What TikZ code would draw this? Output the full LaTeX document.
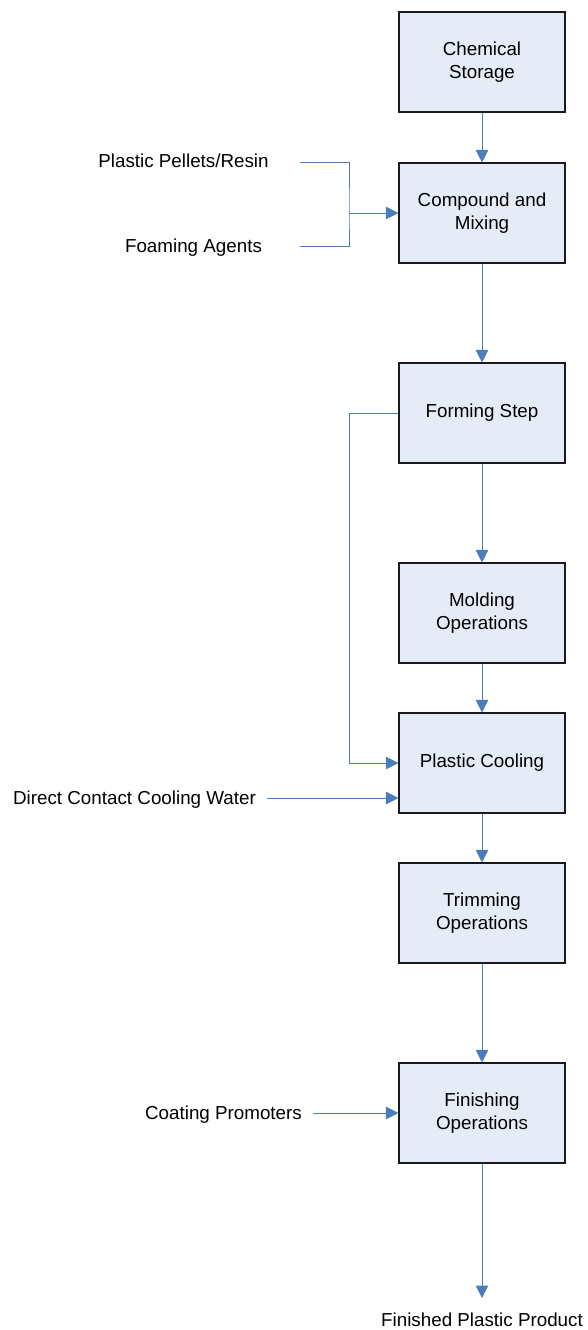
\documentclass[tikz,border=0pt]{standalone}
\usepackage{fontspec}
\setmainfont{Liberation Sans}
\usetikzlibrary{arrows.meta}
\definecolor{flowblue}{HTML}{4A7EBB}
\definecolor{boxfill}{HTML}{E6ECF7}
\definecolor{boxline}{HTML}{1A1A1A}
\tikzset{
  stepbox/.style={draw=boxline, line width=1.1pt, fill=boxfill, minimum width=166pt,
    minimum height=100pt, inner sep=0pt, align=center, font=\fontsize{18.8}{22.5}\selectfont},
  label/.style={inner sep=0pt, font=\fontsize{18.8}{22.5}\selectfont},
  flow/.style={draw=flowblue, line width=1pt},
  flowarrow/.style={flow, -{Triangle[length=12.5pt,width=12.5pt]}}
}
\begin{document}
\begin{tikzpicture}[x=1pt,y=-1pt]
\useasboundingbox (0,0) rectangle (588,1330);
% process boxes
\node[stepbox] (chem) at (482,62) {Chemical\\Storage};
\node[stepbox] (mix) at (482,213) {Compound and\\Mixing};
\node[stepbox] (form) at (482,413) {Forming Step};
\node[stepbox] (mold) at (482,613) {Molding\\Operations};
\node[stepbox] (cool) at (482,763) {Plastic Cooling};
\node[stepbox] (trim) at (482,913) {Trimming\\Operations};
\node[stepbox] (fin) at (482,1113) {Finishing\\Operations};
% side inputs and output
\node[label] (pellets) at (183.5,161) {Plastic Pellets/Resin};
\node[label] (foam) at (193.5,247.5) {Foaming Agents};
\node[label] (water) at (134.5,800) {Direct Contact Cooling Water};
\node[label] (coat) at (223.5,1115) {Coating Promoters};
\node[label] (product) at (482,1320) {Finished Plastic Product};
% free ends of the input lines
\coordinate (pin) at (300,162);
\coordinate (fin1) at (300,246);
\coordinate (join) at (349,213);
\coordinate (win) at (267,798);
\coordinate (cin) at (313,1113);
\coordinate (pend) at (482,1298);
% main chain
\draw[flowarrow] (chem) -- (mix);
\draw[flowarrow] (mix) -- (form);
\draw[flowarrow] (form) -- (mold);
\draw[flowarrow] (mold) -- (cool);
\draw[flowarrow] (cool) -- (trim);
\draw[flowarrow] (trim) -- (fin);
\draw[flowarrow] (fin) -- (pend);
% merged inputs to compounding
\draw[flow] (pin) -| (join) |- (fin1);
\draw[flowarrow] (join) -- (mix.west);
% bypass from forming to cooling
\draw[flowarrow] (form.west) -- (349,413) |- (cool.west);
\draw[flowarrow] (win) -- (win -| cool.west);
\draw[flowarrow] (cin) -- (fin.west);
\end{tikzpicture}
\end{document}
